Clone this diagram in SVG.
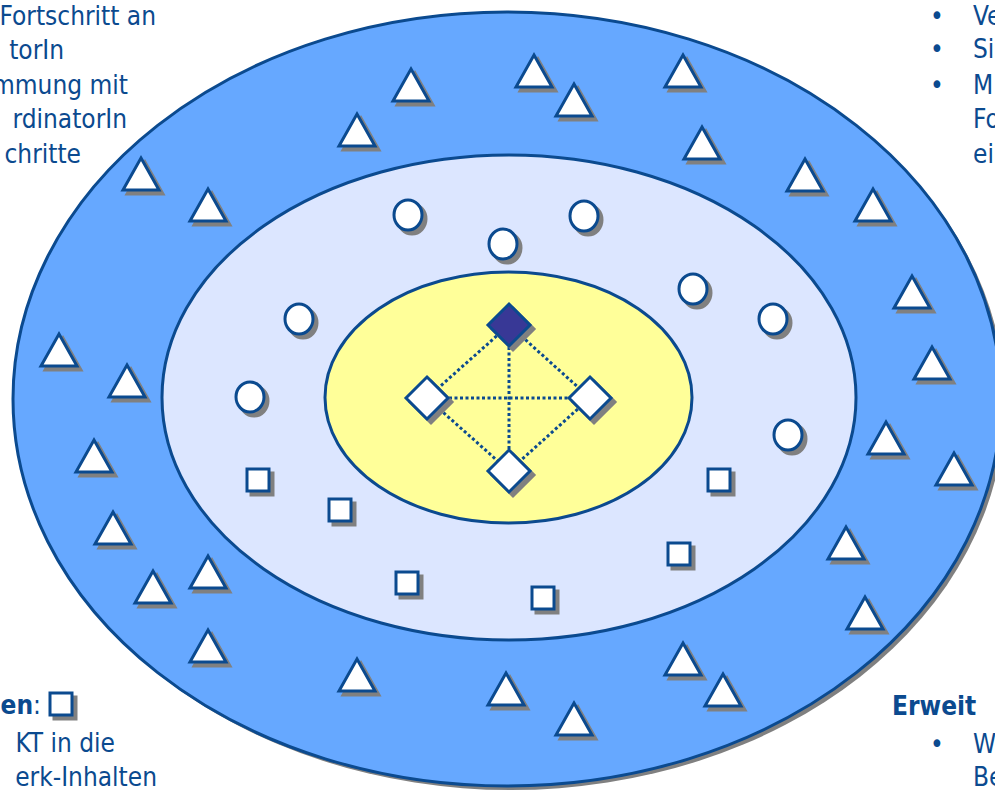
<svg xmlns="http://www.w3.org/2000/svg" xmlns:xlink="http://www.w3.org/1999/xlink" width="995" height="790" viewBox="0 0 995 790">
<style>
.txt{font-family:"DejaVu Sans Condensed","DejaVu Sans",sans-serif;font-size:26px;fill:#0B4A8F;font-stretch:condensed}
.bold{font-weight:bold}
.sh{fill:#808080;stroke:#808080;stroke-width:3}
.wh{fill:#FFFFFF;stroke:#0B4A8F;stroke-width:3}
.dk{fill:#383896;stroke:#0B4A8F;stroke-width:3}
.ring{stroke:#0B4A8F;stroke-width:3}
.dot{stroke:#0B4A8F;stroke-width:3;stroke-dasharray:3 2.5;fill:none}
</style>
<defs>
<path id="tri" d="M0,-16 L18,16 L-18,16 Z"/>
<ellipse id="cir" cx="0" cy="0" rx="14" ry="15"/>
<rect id="sq" x="-11" y="-11" width="22" height="22"/>
<path id="dia" d="M0,-21 L21,0 L0,21 L-21,0 Z"/>
</defs>
<rect width="995" height="790" fill="#FFFFFF"/>
<g id="outer-ring">
<ellipse cx="511" cy="403" rx="494" ry="387" fill="#808080"/>
<ellipse class="ring" cx="507" cy="399" rx="494" ry="387" fill="#66A8FF"/>
</g>
<g id="middle-ring">
<ellipse class="ring" cx="509" cy="397.5" rx="347" ry="242.5" fill="#DCE6FF"/>
</g>
<g id="core">
<ellipse class="ring" cx="508.5" cy="397.5" rx="183.5" ry="125.5" fill="#FFFF99"/>
</g>
<g id="connectors">
<line class="dot" x1="509" y1="325" x2="427" y2="398"/>
<line class="dot" x1="509" y1="325" x2="590" y2="398"/>
<line class="dot" x1="509" y1="325" x2="509" y2="471"/>
<line class="dot" x1="427" y1="398" x2="590" y2="398"/>
<line class="dot" x1="427" y1="398" x2="509" y2="471"/>
<line class="dot" x1="590" y1="398" x2="509" y2="471"/>
</g>
<g id="diamond-top"><use href="#dia" class="sh" x="513" y="329"/><use href="#dia" class="dk" x="509" y="325"/></g>
<g id="diamond-left"><use href="#dia" class="sh" x="431" y="402"/><use href="#dia" class="wh" x="427" y="398"/></g>
<g id="diamond-right"><use href="#dia" class="sh" x="594" y="402"/><use href="#dia" class="wh" x="590" y="398"/></g>
<g id="diamond-bottom"><use href="#dia" class="sh" x="513" y="475"/><use href="#dia" class="wh" x="509" y="471"/></g>
<g id="circles">
<g id="c1"><use href="#cir" class="sh" x="412" y="219"/><use href="#cir" class="wh" x="408" y="215"/></g>
<g id="c2"><use href="#cir" class="sh" x="588" y="220"/><use href="#cir" class="wh" x="584" y="216"/></g>
<g id="c3"><use href="#cir" class="sh" x="507" y="248"/><use href="#cir" class="wh" x="503" y="244"/></g>
<g id="c4"><use href="#cir" class="sh" x="697" y="293"/><use href="#cir" class="wh" x="693" y="289"/></g>
<g id="c5"><use href="#cir" class="sh" x="303" y="323"/><use href="#cir" class="wh" x="299" y="319"/></g>
<g id="c6"><use href="#cir" class="sh" x="777" y="323"/><use href="#cir" class="wh" x="773" y="319"/></g>
<g id="c7"><use href="#cir" class="sh" x="254" y="401"/><use href="#cir" class="wh" x="250" y="397"/></g>
<g id="c8"><use href="#cir" class="sh" x="792" y="439"/><use href="#cir" class="wh" x="788" y="435"/></g>
</g>
<g id="squares">
<g id="s1"><use href="#sq" class="sh" x="262" y="484"/><use href="#sq" class="wh" x="258" y="480"/></g>
<g id="s2"><use href="#sq" class="sh" x="344" y="514"/><use href="#sq" class="wh" x="340" y="510"/></g>
<g id="s3"><use href="#sq" class="sh" x="723" y="484"/><use href="#sq" class="wh" x="719" y="480"/></g>
<g id="s4"><use href="#sq" class="sh" x="683" y="558"/><use href="#sq" class="wh" x="679" y="554"/></g>
<g id="s5"><use href="#sq" class="sh" x="411" y="587"/><use href="#sq" class="wh" x="407" y="583"/></g>
<g id="s6"><use href="#sq" class="sh" x="547" y="602"/><use href="#sq" class="wh" x="543" y="598"/></g>
</g>
<g id="triangles">
<g id="t1"><use href="#tri" class="sh" x="415" y="89"/><use href="#tri" class="wh" x="411" y="85"/></g>
<g id="t2"><use href="#tri" class="sh" x="538" y="75"/><use href="#tri" class="wh" x="534" y="71"/></g>
<g id="t3"><use href="#tri" class="sh" x="687" y="75"/><use href="#tri" class="wh" x="683" y="71"/></g>
<g id="t4"><use href="#tri" class="sh" x="578" y="104"/><use href="#tri" class="wh" x="574" y="100"/></g>
<g id="t5"><use href="#tri" class="sh" x="361" y="134"/><use href="#tri" class="wh" x="357" y="130"/></g>
<g id="t6"><use href="#tri" class="sh" x="706" y="147"/><use href="#tri" class="wh" x="702" y="143"/></g>
<g id="t7"><use href="#tri" class="sh" x="145" y="178"/><use href="#tri" class="wh" x="141" y="174"/></g>
<g id="t8"><use href="#tri" class="sh" x="212" y="209"/><use href="#tri" class="wh" x="208" y="205"/></g>
<g id="t9"><use href="#tri" class="sh" x="809" y="179"/><use href="#tri" class="wh" x="805" y="175"/></g>
<g id="t10"><use href="#tri" class="sh" x="877" y="209"/><use href="#tri" class="wh" x="873" y="205"/></g>
<g id="t11"><use href="#tri" class="sh" x="916" y="296"/><use href="#tri" class="wh" x="912" y="292"/></g>
<g id="t12"><use href="#tri" class="sh" x="63" y="354"/><use href="#tri" class="wh" x="59" y="350"/></g>
<g id="t13"><use href="#tri" class="sh" x="131" y="385"/><use href="#tri" class="wh" x="127" y="381"/></g>
<g id="t14"><use href="#tri" class="sh" x="936" y="367"/><use href="#tri" class="wh" x="932" y="363"/></g>
<g id="t15"><use href="#tri" class="sh" x="98" y="460"/><use href="#tri" class="wh" x="94" y="456"/></g>
<g id="t16"><use href="#tri" class="sh" x="890" y="442"/><use href="#tri" class="wh" x="886" y="438"/></g>
<g id="t17"><use href="#tri" class="sh" x="958" y="473"/><use href="#tri" class="wh" x="954" y="469"/></g>
<g id="t18"><use href="#tri" class="sh" x="117" y="532"/><use href="#tri" class="wh" x="113" y="528"/></g>
<g id="t19"><use href="#tri" class="sh" x="850" y="547"/><use href="#tri" class="wh" x="846" y="543"/></g>
<g id="t20"><use href="#tri" class="sh" x="157" y="591"/><use href="#tri" class="wh" x="153" y="587"/></g>
<g id="t21"><use href="#tri" class="sh" x="212" y="576"/><use href="#tri" class="wh" x="208" y="572"/></g>
<g id="t22"><use href="#tri" class="sh" x="869" y="617"/><use href="#tri" class="wh" x="865" y="613"/></g>
<g id="t23"><use href="#tri" class="sh" x="212" y="650"/><use href="#tri" class="wh" x="208" y="646"/></g>
<g id="t24"><use href="#tri" class="sh" x="361" y="679"/><use href="#tri" class="wh" x="357" y="675"/></g>
<g id="t25"><use href="#tri" class="sh" x="687" y="663"/><use href="#tri" class="wh" x="683" y="659"/></g>
<g id="t26"><use href="#tri" class="sh" x="510" y="693"/><use href="#tri" class="wh" x="506" y="689"/></g>
<g id="t27"><use href="#tri" class="sh" x="727" y="694"/><use href="#tri" class="wh" x="723" y="690"/></g>
<g id="t28"><use href="#tri" class="sh" x="578" y="723"/><use href="#tri" class="wh" x="574" y="719"/></g>
</g>
<g id="text-top-left" class="txt" text-anchor="end">
<text x="156" y="25">Fortschritt an</text>
<text x="64" y="59">torIn</text>
<text x="128" y="94">mmung mit</text>
<text x="127" y="128">rdinatorIn</text>
<text x="81" y="163">chritte</text>
</g>
<g id="text-top-right" class="txt">
<text x="930" y="25">•</text><text x="973" y="25">Ve</text>
<text x="930" y="58">•</text><text x="973" y="58">Si</text>
<text x="930" y="94">•</text><text x="973" y="94">M</text>
<text x="973" y="128">Fo</text>
<text x="973" y="163">ei</text>
</g>
<g id="text-bottom-left" class="txt">
<text x="41" y="714" text-anchor="end"><tspan class="bold">en</tspan>:</text>
<g id="legend-square"><rect x="54" y="697" width="22" height="22" class="sh"/><rect x="50" y="693" width="22" height="22" class="wh"/></g>
<text x="115" y="752" text-anchor="end">KT in die</text>
<text x="157" y="786" text-anchor="end">erk-Inhalten</text>
</g>
<g id="text-bottom-right" class="txt">
<text x="892" y="715" class="bold">Erweit</text>
<text x="930" y="753">•</text><text x="973" y="753">W</text>
<text x="973" y="786">Be</text>
</g>
</svg>
